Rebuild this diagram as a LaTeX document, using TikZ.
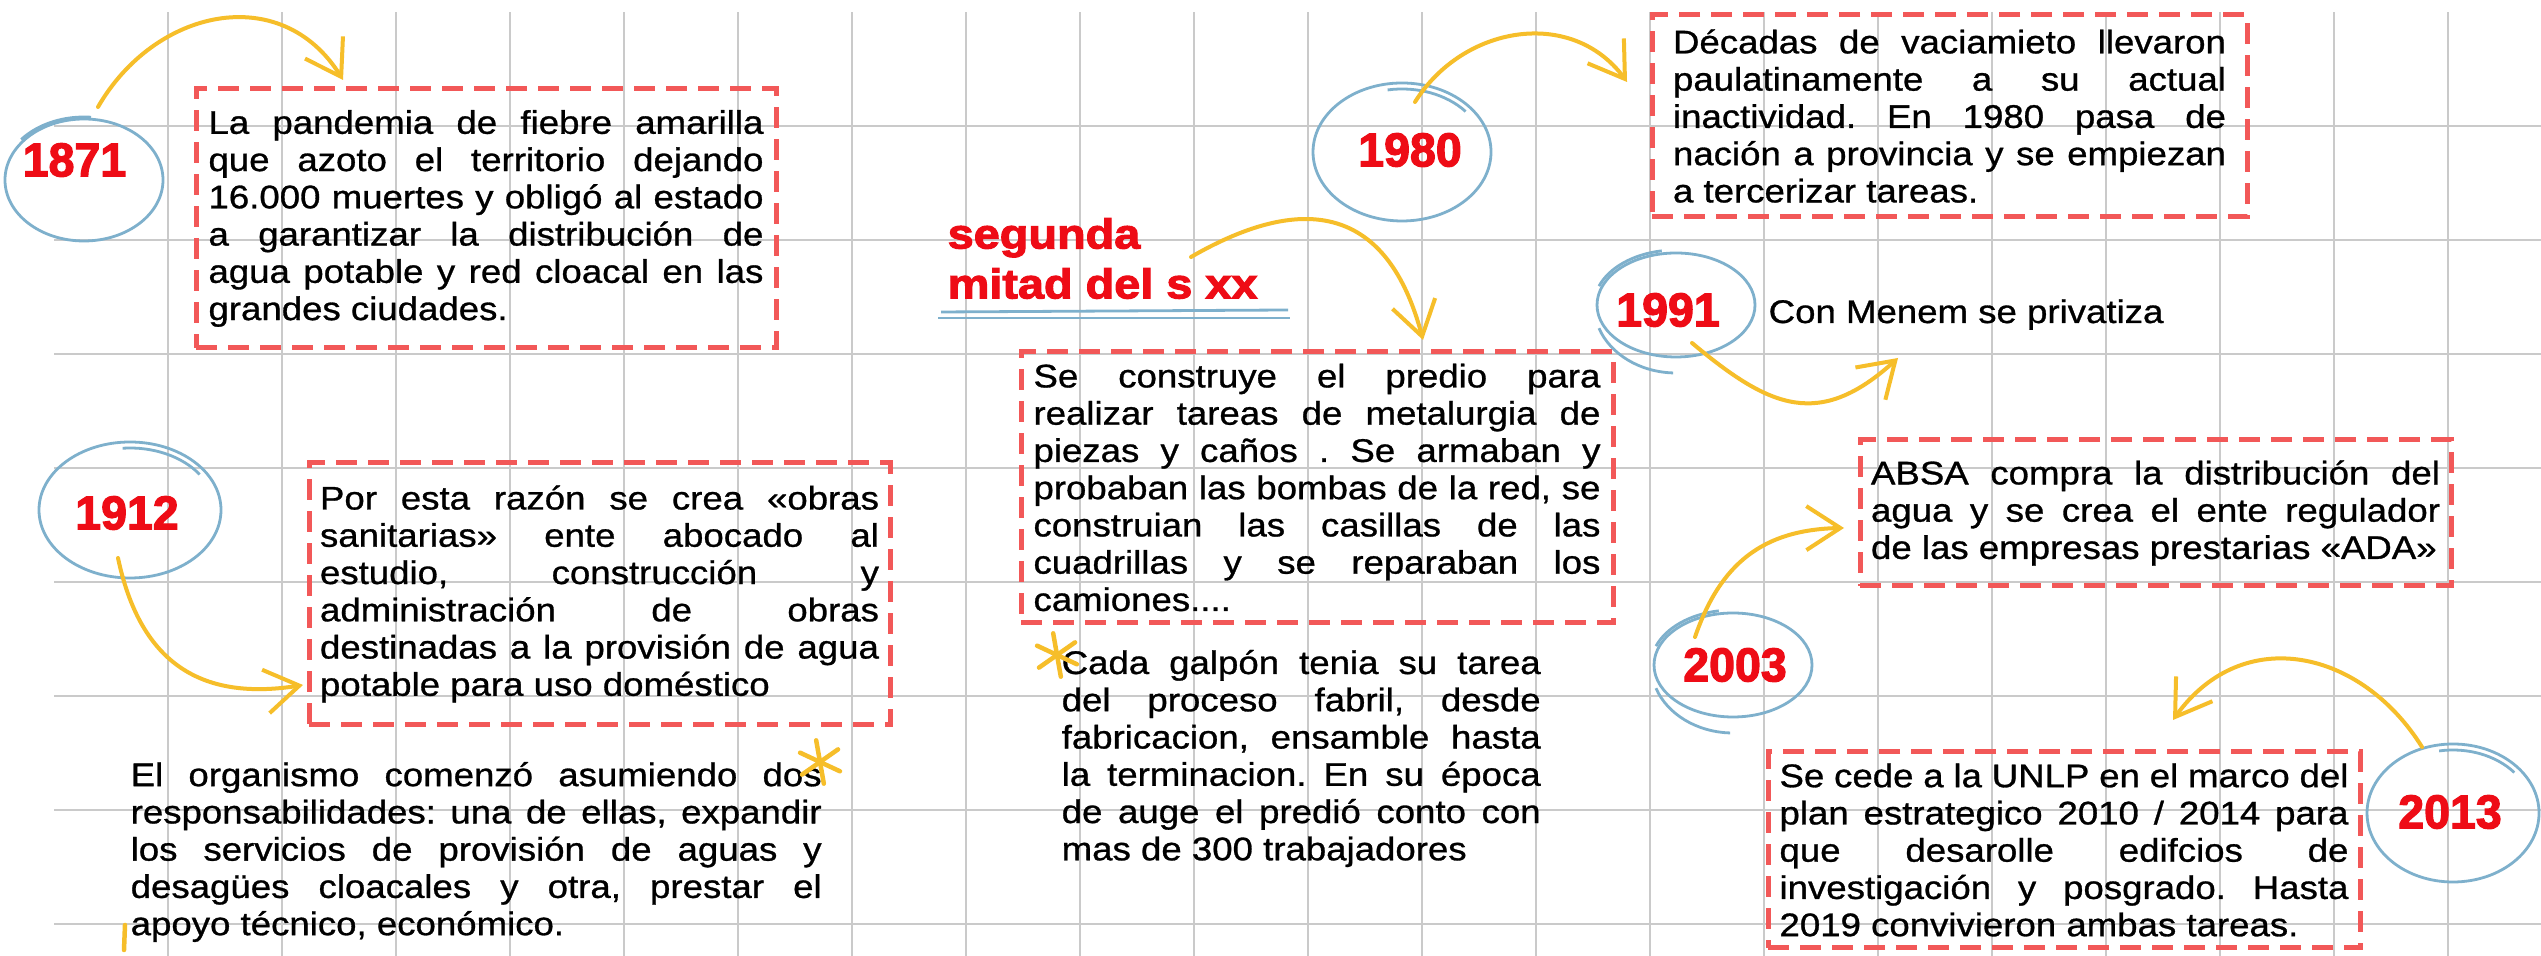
\documentclass[tikz,border=0pt]{standalone}
\usepackage{fontspec}
\setmainfont{Liberation Sans}[FakeStretch=1.12,FakeBold=0.9]
\newfontfamily\yearfont{Liberation Sans}[FakeStretch=0.98,FakeBold=2.6]
\newfontfamily\sxxfont{Liberation Sans}[FakeStretch=1.12,FakeBold=2.6]
\usepackage{xcolor}
\usepackage{tikz}
\usetikzlibrary{arrows.meta,bending,shapes}

\definecolor{gridgray}{RGB}{202,202,202}
\definecolor{boxred}{RGB}{242,88,88}
\definecolor{yearred}{RGB}{238,12,22}
\definecolor{loopblue}{RGB}{126,176,204}
\definecolor{arrowyellow}{RGB}{246,190,42}

\newcommand{\bodytext}{\fontsize{9.3pt}{10.6pt}\selectfont\frenchspacing\hyphenpenalty=10000\tolerance=9999}

\tikzset{
gridline/.style={gridgray,line width=0.02cm},
dashbox/.style={draw=boxred,line width=0.05cm,dash pattern=on 0.21cm off 0.11cm,align=justify,font=\bodytext,inner sep=0},
freetext/.style={align=justify,font=\bodytext,inner sep=0,anchor=west},
yearlabel/.style={text=yearred,font=\yearfont\bfseries\fontsize{13.5pt}{13.5pt}\selectfont,inner sep=0},
loopline/.style={loopblue,line width=0.028cm},
yarrow/.style={arrowyellow,line width=0.04cm,line cap=round,line join=round,-{Straight Barb[length=3.4mm,width=4.4mm]}},
starline/.style={arrowyellow,line width=0.045cm,line cap=round}
}

\begin{document}
\begin{tikzpicture}
\useasboundingbox (0,0) rectangle (25.41,9.56);
\fill[white] (0,0) rectangle (25.41,9.56);
%grid
\foreach \i in {0,...,20}
  \draw[gridline] (1.68+1.14*\i,0)--(1.68+1.14*\i,9.44);
\foreach \j in {0,...,7}
  \draw[gridline] (0.54,8.30-1.14*\j)--(25.41,8.30-1.14*\j);

%boxes
\node[dashbox,minimum width=5.80cm,minimum height=2.59cm,text width=5.55cm] (b1871) at (4.86,7.375)
{La pandemia de fiebre amarilla\linebreak que azoto el territorio dejando\linebreak 16.000 muertes y obligó al estado\linebreak a garantizar la distribución de\linebreak agua potable y red cloacal en las\linebreak grandes ciudades.};
\node[dashbox,minimum width=5.81cm,minimum height=2.62cm,text width=5.59cm] (b1912) at (5.995,3.62)
{Por esta razón se crea «obras\linebreak sanitarias» ente abocado al\linebreak estudio, construcción y\linebreak administración de obras\linebreak destinadas a la provisión de agua\linebreak potable para uso doméstico};
\node[dashbox,minimum width=5.92cm,minimum height=2.71cm,text width=5.67cm] (bsxx) at (13.17,4.685)
{Se construye el predio para\linebreak realizar tareas de metalurgia de\linebreak piezas y caños . Se armaban y\linebreak probaban las bombas de la red, se\linebreak construian las casillas de las\linebreak cuadrillas y se reparaban los\linebreak camiones....};
\node[dashbox,minimum width=5.95cm,minimum height=2.02cm,text width=5.53cm] (b1980) at (19.495,8.40)
{Décadas de vaciamieto llevaron\linebreak paulatinamente a su actual\linebreak inactividad. En 1980 pasa de\linebreak nación a provincia y se empiezan\linebreak a tercerizar tareas.};
\node[dashbox,minimum width=5.91cm,minimum height=1.46cm,text width=5.69cm] (b2003) at (21.555,4.43)
{ABSA compra la distribución del\linebreak agua y se crea el ente regulador\linebreak de las empresas prestarias «ADA»};
\node[dashbox,minimum width=5.92cm,minimum height=1.96cm,text width=5.69cm] (b2013) at (20.64,1.06)
{Se cede a la UNLP en el marco del\linebreak plan estrategico 2010 / 2014 para\linebreak que desarolle edifcios de\linebreak investigación y posgrado. Hasta\linebreak 2019 convivieron ambas tareas.};

%free texts
\node[freetext,text width=6.91cm] (torg) at (1.30,1.04)
{El organismo comenzó asumiendo dos\linebreak responsabilidades: una de ellas, expandir\linebreak los servicios de provisión de aguas y\linebreak desagües cloacales y otra, prestar el\linebreak apoyo técnico, económico.};
\node[freetext,text width=4.79cm] (tgal) at (10.61,1.975)
{Cada galpón tenia su tarea\linebreak del proceso fabril, desde\linebreak fabricacion, ensamble hasta\linebreak la terminacion. En su época\linebreak de auge el predió conto con\linebreak mas de 300 trabajadores};
\node[anchor=base west,inner sep=0,font=\bodytext] (t1991) at (17.68,6.33) {Con Menem se privatiza};
\node[anchor=west,inner sep=0,align=left,text=yearred,font=\sxxfont\bfseries\fontsize{11.9pt}{14.2pt}\selectfont] (tsxx) at (9.47,6.975) {segunda\\mitad del s xx};

%years
\node[yearlabel] (y1871) at (0.745,7.96) {1871};
\node[yearlabel] (y1912) at (1.27,4.43) {1912};
\node[yearlabel] (y1980) at (14.10,8.06) {1980};
\node[yearlabel] (y1991) at (16.68,6.46) {1991};
\node[yearlabel] (y2003) at (17.35,2.91) {2003};
\node[yearlabel] (y2013) at (24.50,1.44) {2013};

%loops
\draw[loopline] ([shift={(0.095,-0.2)}]y1871.center) ellipse [x radius=0.79,y radius=0.61];
\draw[loopline] ([shift={(0.095,-0.2)}]y1871.center) ++(85:0.82 and 0.63) arc [start angle=85,end angle=140,x radius=0.82,y radius=0.63];
\draw[loopline] ([shift={(0.03,0.03)}]y1912.center) ellipse [x radius=0.91,y radius=0.68];
\draw[loopline] ([shift={(0.03,0.03)}]y1912.center) ++(95:0.85 and 0.62) arc [start angle=95,end angle=35,x radius=0.85,y radius=0.62];
\draw[loopline] ([shift={(-0.08,-0.02)}]y1980.center) ellipse [x radius=0.89,y radius=0.69];
\draw[loopline] ([shift={(-0.08,-0.02)}]y1980.center) ++(100:0.83 and 0.63) arc [start angle=100,end angle=40,x radius=0.83,y radius=0.63];
\draw[loopline] ([shift={(0.08,0.05)}]y1991.center) ellipse [x radius=0.79,y radius=0.52];
\draw[loopline] ([shift={(0.08,0.05)}]y1991.center) ++(100:0.82 and 0.55) arc [start angle=100,end angle=160,x radius=0.82,y radius=0.55];
\draw[loopline] ([shift={(0.08,0.05)}]y1991.center) ++(200:0.82 and 0.68) arc [start angle=200,end angle=268,x radius=0.82,y radius=0.68];
\draw[loopline] ([shift={(-0.02,0)}]y2003.center) ellipse [x radius=0.79,y radius=0.52];
\draw[loopline] ([shift={(-0.02,0)}]y2003.center) ++(100:0.82 and 0.55) arc [start angle=100,end angle=160,x radius=0.82,y radius=0.55];
\draw[loopline] ([shift={(-0.02,0)}]y2003.center) ++(200:0.82 and 0.68) arc [start angle=200,end angle=268,x radius=0.82,y radius=0.68];
\draw[loopline] ([shift={(0.03,-0.01)}]y2013.center) ellipse [x radius=0.86,y radius=0.69];
\draw[loopline] ([shift={(0.03,-0.01)}]y2013.center) ++(100:0.80 and 0.63) arc [start angle=100,end angle=40,x radius=0.80,y radius=0.63];
%underline
\draw[loopline] (9.41,6.44)--(12.88,6.46);
\draw[loopline] (9.38,6.38)--(12.90,6.38);

%arrows
\coordinate (tip1871) at (3.43,8.76);
\coordinate (tip1912) at (3.03,2.71);
\coordinate (tip1980) at (16.27,8.74);
\coordinate (tipsxx) at (14.23,6.16);
\coordinate (tip1991) at (18.98,5.98);
\coordinate (tip2003) at (18.44,4.28);
\coordinate (tip2013) at (21.73,2.36);
\draw[yarrow] ([shift={(0.235,0.53)}]y1871.center) to[out=60,in=120,looseness=1.2] (tip1871);
\draw[yarrow] ([shift={(-0.09,-0.45)}]y1912.center) to[out=-78,in=190,looseness=1.2] (tip1912);
\draw[yarrow] ([shift={(0.05,0.48)}]y1980.center) to[out=58,in=124,looseness=1.1] (tip1980);
\draw[yarrow] ([shift={(2.44,0.015)}]tsxx.west) to[out=30,in=104,looseness=1.4] (tipsxx);
\draw[yarrow] ([shift={(0.24,-0.33)}]y1991.center) to[out=-40,in=223,looseness=1.3] (tip1991);
\draw[yarrow] ([shift={(-0.40,0.28)}]y2003.center) to[out=71,in=180,looseness=1.1] (tip2003);
\draw[yarrow] ([shift={(-0.28,0.65)}]y2013.center) to[out=122,in=56,looseness=1.2] (tip2013);

%stars
\foreach \a in {100,35,-25}{
  \draw[starline] (8.20,1.94) ++(\a:0.22) -- ++(\a+180:0.44);
  \draw[starline] (10.57,3.01) ++(\a:0.22) -- ++(\a+180:0.44);
}
\draw[starline] (1.25,0.31)--(1.24,0.06);
\end{tikzpicture}
\end{document}
